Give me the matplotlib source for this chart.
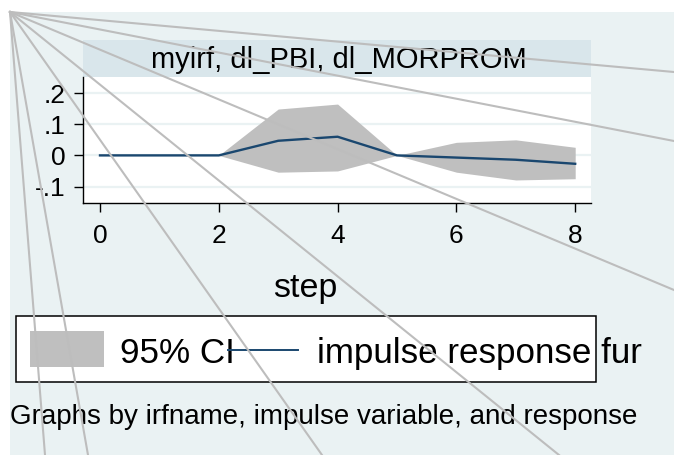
import matplotlib
matplotlib.use("Agg")
import matplotlib.pyplot as plt
from matplotlib.patches import Rectangle
from matplotlib.lines import Line2D

plt.rcParams["font.family"] = ["Liberation Sans", "DejaVu Sans"]

# impulse response data
steps = [0, 1, 2, 3, 4, 5, 6, 7, 8]
irf = [0, 0, 0, 0.047, 0.060, 0, -0.007, -0.014, -0.027]
ci_low = [0, 0, 0, -0.054, -0.050, 0, -0.054, -0.079, -0.075]
ci_high = [0, 0, 0, 0.149, 0.165, 0, 0.042, 0.050, 0.026]

xticks = [0, 2, 4, 6, 8]
yticks = [0.2, 0.1, 0, -0.1]
ytick_labels = [".2", ".1", "0", "-.1"]

title = "myirf, dl_PBI, dl_MORPROM"
xlabel = "step"
legend_labels = ["95% CI", "impulse response fur"]
note = "Graphs by irfname, impulse variable, and response"

# stray grey rays, pixel endpoints from the corner of the graph region
ray_origin = (10, 12)
ray_ends = [(674, 72), (674, 141), (674, 290), (559, 455), (322, 455), (88, 455), (45, 455)]

W, H = 674, 455
bg = "#eaf2f3"
band = "#d9e6eb"
navy = "#1a476f"
grey = "#bfbfbf"


def fx(x):
    return x / W


def fy(y):
    return 1 - y / H


fig = plt.figure(figsize=(W / 100, H / 100), dpi=100)
fig.patch.set_facecolor("white")

# graph region background
fig.add_artist(Rectangle((fx(10), fy(455)), fx(664), 443 / H, transform=fig.transFigure,
                         facecolor=bg, edgecolor="none", zorder=-5))

# plot region and title strip
left, right, top, bottom = 83.3, 591, 77, 203.3
fig.add_artist(Rectangle((fx(left), fy(top)), fx(right - left), 37 / H, transform=fig.transFigure,
                         facecolor=band, edgecolor="none", zorder=-4))
fig.text(fx(339), fy(68), title, ha="center", va="baseline", fontsize=21)

ax = fig.add_axes([fx(left), fy(bottom), fx(right - left), (bottom - top) / H])
ax.set_facecolor("white")
ax.fill_between(steps, ci_low, ci_high, color=grey, linewidth=0, zorder=2)
ax.plot(steps, irf, color=navy, lw=1.7, zorder=3)

ax.set_xlim(-0.281, 8.266)
ax.set_ylim(-0.154, 0.252)
ax.set_xticks(xticks)
ax.set_xticklabels([str(t) for t in xticks])
ax.set_yticks(yticks)
ax.set_yticklabels(ytick_labels)
ax.grid(axis="y", color=bg, lw=1.6)
ax.set_axisbelow(True)
for s in ["top", "right"]:
    ax.spines[s].set_visible(False)
for s in ["left", "bottom"]:
    ax.spines[s].set_linewidth(1.0)
ax.tick_params(axis="x", length=6.5, width=1.0, pad=8.5, labelsize=19)
ax.tick_params(axis="y", length=6.5, width=1.0, pad=6.5, labelsize=19)

fig.text(fx(305), fy(297), xlabel, ha="center", va="baseline", fontsize=24.5)

# legend drawn by hand so the long label can run past the box like in Stata
fig.add_artist(Rectangle((fx(16), fy(382)), fx(580), 66 / H, transform=fig.transFigure,
                         facecolor="white", edgecolor="black", lw=1.1, zorder=1))
fig.add_artist(Rectangle((fx(30), fy(367)), fx(74.5), 36 / H, transform=fig.transFigure,
                         facecolor=grey, edgecolor="none", zorder=2))
fig.text(fx(120), fy(362.7), legend_labels[0], ha="left", va="baseline", fontsize=25.2, zorder=3)
fig.add_artist(Line2D([fx(228), fx(298)], [fy(350), fy(350)], transform=fig.transFigure,
                      color=navy, lw=1.4, zorder=4))
fig.text(fx(317), fy(362.7), legend_labels[1], ha="left", va="baseline", fontsize=25.2, zorder=3)

fig.text(fx(9.5), fy(424), note, ha="left", va="baseline", fontsize=20)

for ex, ey in ray_ends:
    fig.add_artist(Line2D([fx(ray_origin[0]), fx(ex)], [fy(ray_origin[1]), fy(ey)],
                          transform=fig.transFigure, color="#bdbdbd", lw=1.5, zorder=20))

fig.savefig("out.png", dpi=100)
